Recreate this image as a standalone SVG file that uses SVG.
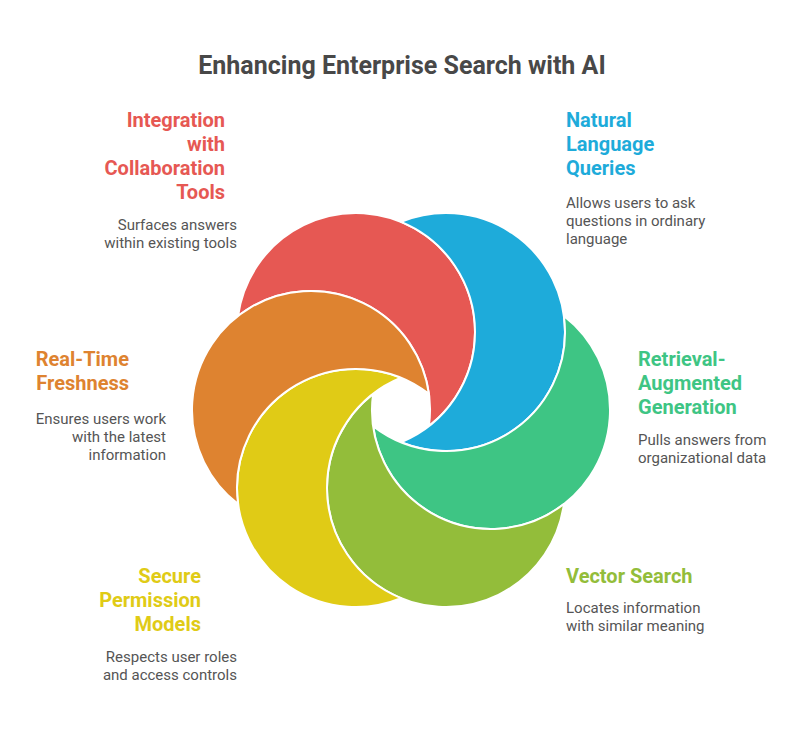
<svg xmlns="http://www.w3.org/2000/svg" width="804" height="732" viewBox="0 0 804 732">
<style>
.petal{stroke:#ffffff;stroke-width:2;stroke-linejoin:round}
.title{font-family:Roboto,"Liberation Sans",sans-serif;font-weight:700;font-size:25px;fill:#484848}
.lbl{font-family:Roboto,"Liberation Sans",sans-serif;font-weight:700;font-size:20px}
.desc{font-family:Roboto,"Liberation Sans",sans-serif;font-size:15px;fill:#555555}
.r{text-anchor:end}
</style>
<rect width="804" height="732" fill="#ffffff"/>
<text class="title" x="402" y="74" text-anchor="middle">Enhancing Enterprise Search with AI</text>
<g id="connectors"></g>
<g id="node-integration">
<path class="petal" fill="#E65853" d="M 238.10 315.95 A 119 119 0 1 1 428.90 426.11 A 119 119 0 0 0 238.10 315.95 Z"/>
<text class="lbl r" fill="#E65853" x="225" y="127">Integration</text>
<text class="lbl r" fill="#E65853" x="225" y="151">with</text>
<text class="lbl r" fill="#E65853" x="225" y="175">Collaboration</text>
<text class="lbl r" fill="#E65853" x="225" y="199">Tools</text>
<text class="desc r" x="237" y="230">Surfaces answers</text>
<text class="desc r" x="237" y="248">within existing tools</text>
</g>
<g id="node-natural-language">
<path class="petal" fill="#1EABDA" d="M 401 221.89 A 119 119 0 1 1 401 442.22 A 119 119 0 0 0 401 221.89 Z"/>
<text class="lbl" fill="#1EABDA" x="566" y="127">Natural</text>
<text class="lbl" fill="#1EABDA" x="566" y="151">Language</text>
<text class="lbl" fill="#1EABDA" x="566" y="175">Queries</text>
<text class="desc" x="566" y="208">Allows users to ask</text>
<text class="desc" x="566" y="226">questions in ordinary</text>
<text class="desc" x="566" y="244">language</text>
</g>
<g id="node-rag">
<path class="petal" fill="#3EC584" d="M 563.90 315.95 A 119 119 0 1 1 373.10 426.11 A 119 119 0 0 0 563.90 315.95 Z"/>
<text class="lbl" fill="#3EC584" x="638" y="366">Retrieval-</text>
<text class="lbl" fill="#3EC584" x="638" y="390">Augmented</text>
<text class="lbl" fill="#3EC584" x="638" y="414">Generation</text>
<text class="desc" x="638" y="445">Pulls answers from</text>
<text class="desc" x="638" y="463">organizational data</text>
</g>
<g id="node-vector-search">
<path class="petal" fill="#93BD3A" d="M 563.90 504.05 A 119 119 0 1 1 373.10 393.89 A 119 119 0 0 0 563.90 504.05 Z"/>
<text class="lbl" fill="#93BD3A" x="566" y="583">Vector Search</text>
<text class="desc" x="566" y="613">Locates information</text>
<text class="desc" x="566" y="631">with similar meaning</text>
</g>
<g id="node-secure-permission">
<path class="petal" fill="#E0CB16" d="M 401 598.11 A 119 119 0 1 1 401 377.78 A 119 119 0 0 0 401 598.11 Z"/>
<text class="lbl r" fill="#E0CB16" x="201" y="583">Secure</text>
<text class="lbl r" fill="#E0CB16" x="201" y="607">Permission</text>
<text class="lbl r" fill="#E0CB16" x="201" y="631">Models</text>
<text class="desc r" x="237" y="662">Respects user roles</text>
<text class="desc r" x="237" y="680">and access controls</text>
</g>
<g id="node-real-time">
<path class="petal" fill="#DE8330" d="M 238.10 504.05 A 119 119 0 1 1 428.90 393.89 A 119 119 0 0 0 238.10 504.05 Z"/>
<text class="lbl r" fill="#DE8330" x="129" y="366">Real-Time</text>
<text class="lbl r" fill="#DE8330" x="129" y="390">Freshness</text>
<text class="desc r" x="166" y="424">Ensures users work</text>
<text class="desc r" x="166" y="442">with the latest</text>
<text class="desc r" x="166" y="460">information</text>
</g>
</svg>
